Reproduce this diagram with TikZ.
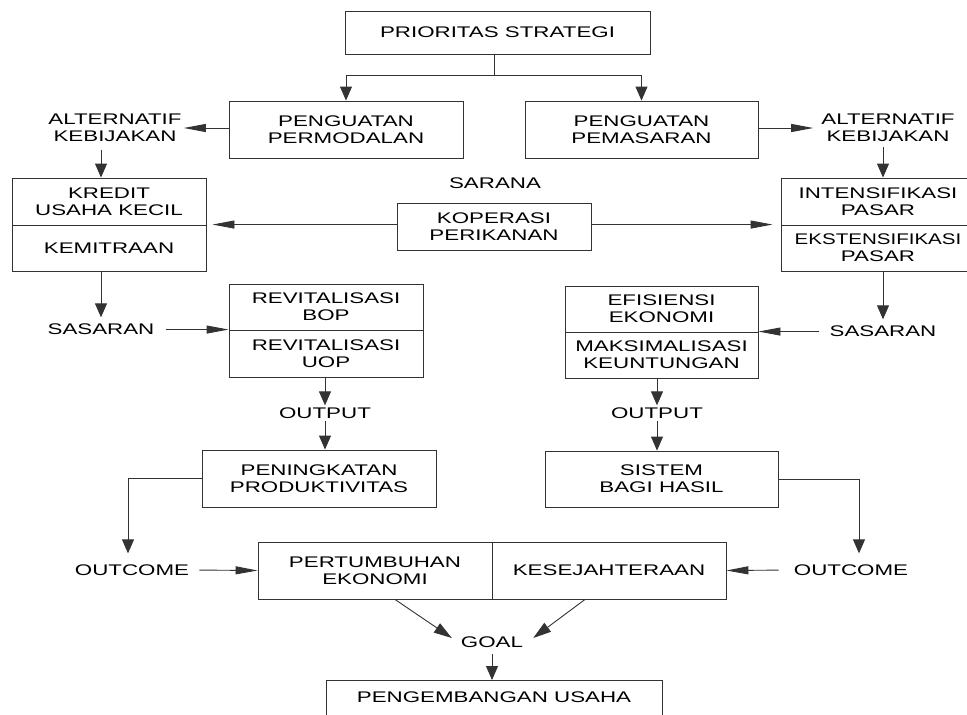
\documentclass[tikz,border=0pt]{standalone}
\usepackage{fontspec}
\setmainfont{Liberation Sans}[FakeStretch=1.45]
\usepackage{tikz}
\usetikzlibrary{arrows.meta}

\begin{document}
\begin{tikzpicture}[x=1pt,y=-1pt,
    box/.style={draw=black!80,line width=0.9pt,align=center,inner sep=0pt,font=\fontsize{15.4}{17}\selectfont},
    lbl/.style={align=center,inner sep=2pt,font=\fontsize{15.4}{17}\selectfont},
    link/.style={draw=black!80,line width=0.9pt},
    varr/.style={link,-{Triangle[length=14pt,width=12pt]}},
    harr/.style={link,-{Triangle[length=22pt,width=8pt]}},
    darr/.style={link,-{Triangle[length=18pt,width=11pt]}}]
        \useasboundingbox (0,0) rectangle (967,715);
        \clip (0,0) rectangle (967,715);
        % top level
        \node[box,minimum width=305,minimum height=43] (prio) at (497.5,32.5) {PRIORITAS STRATEGI};
        \node[box,minimum width=234,minimum height=57] (modal) at (346,129.5) {PENGUATAN\\PERMODALAN};
        \node[box,minimum width=233,minimum height=57] (pasar) at (641.5,129.5) {PENGUATAN\\PEMASARAN};
        \node[lbl] (altL) at (115,128) {ALTERNATIF\\KEBIJAKAN};
        \node[lbl] (altR) at (888,128) {ALTERNATIF\\KEBIJAKAN};
        % kebijakan and sarana
        \node[box,minimum width=194,minimum height=47] (kreditT) at (109,201.5) {KREDIT\\USAHA KECIL};
        \node[box,minimum width=194,minimum height=46] (kreditB) at (109,248) {KEMITRAAN};
        \node[box,minimum width=194,minimum height=47] (intensT) at (878,201.5) {INTENSIFIKASI\\PASAR};
        \node[box,minimum width=194,minimum height=46] (intensB) at (878,248) {\scalebox{0.92}[1]{EKSTENSIFIKASI}\\PASAR};
        \node[lbl] (sarana) at (495,183) {SARANA};
        \node[box,minimum width=194,minimum height=47] (kop) at (494,226.5) {KOPERASI\\PERIKANAN};
        % sasaran
        \node[lbl] (sasL) at (101,329) {SASARAN};
        \node[lbl] (sasR) at (883,331) {SASARAN};
        \node[box,minimum width=194,minimum height=46] (revitT) at (326,307) {REVITALISASI\\BOP};
        \node[box,minimum width=194,minimum height=47] (revitB) at (326,353.5) {REVITALISASI\\UOP};
        \node[box,minimum width=193,minimum height=46] (efisT) at (661.5,309) {EFISIENSI\\EKONOMI};
        \node[box,minimum width=193,minimum height=46] (efisB) at (661.5,355) {MAKSIMALISASI\\KEUNTUNGAN};
        % output
        \node[lbl] (outL) at (325,413) {OUTPUT};
        \node[lbl] (outR) at (657,413) {OUTPUT};
        \node[box,minimum width=234,minimum height=57] (prod) at (319,478.5) {PENINGKATAN\\PRODUKTIVITAS};
        \node[box,minimum width=233,minimum height=56] (bagi) at (661.5,479) {SISTEM\\BAGI HASIL};
        % outcome and goal
        \node[lbl] (outcL) at (132,570) {OUTCOME};
        \node[lbl] (outcR) at (851,570) {OUTCOME};
        \node[box,minimum width=234,minimum height=57] (tumbuh) at (375,570.5) {PERTUMBUHAN\\EKONOMI};
        \node[box,minimum width=234,minimum height=57] (sejahtera) at (609,570.5) {KESEJAHTERAAN};
        \node[lbl] (goal) at (492,642) {GOAL};
        \node[box,minimum width=336,anchor=north,inner ysep=0pt,text height=22.5pt,text depth=22pt] (kembang) at (494,680) {PENGEMBANGAN USAHA};

        \coordinate (split) at (494,75);
        \draw[link] (prio.south -| split) -- (split);
        \draw[varr] (split) -| (modal.north);
        \draw[varr] (split) -| (pasar.north);
        \draw[harr] (altL.east -| modal.west) -- (altL.east);
        \draw[harr,shorten >=6pt] (altR.west -| pasar.east) -- (altR.west);
        \draw[varr,shorten <=6pt] (altL.south -| sasL) -- (kreditT.north -| sasL);
        \draw[varr,shorten <=3pt] (altR.south -| sasR) -- (intensT.north -| sasR);
        \draw[harr,shorten >=6pt] (kop.west |- kreditB.north east) -- (kreditB.north east);
        \draw[harr,shorten >=8pt] (kop.east |- intensB.north west) -- (intensB.north west);
        \draw[varr,shorten >=4pt] (kreditB.south -| sasL) -- (sasL.north);
        \draw[varr,shorten >=4pt] (intensB.south -| sasR) -- (sasR.north);
        \draw[harr,shorten <=9pt] (sasL.east |- revitB.north west) -- (revitB.north west);
        \draw[harr,shorten <=8pt] (sasR.west |- efisB.north east) -- (efisB.north east);
        \draw[varr] (revitB.south -| outL) -- (outL.north);
        \draw[varr] (outL.south) -- (outL.south |- prod.north);
        \draw[varr] (efisB.south -| outR) -- (outR.north);
        \draw[varr] (outR.south) -- (outR.south |- bagi.north);
        \draw[varr,shorten >=9pt] (prod.west) -| ([xshift=-4pt]outcL.north);
        \draw[varr,shorten >=9pt] (bagi.east) -| ([xshift=8pt]outcR.north);
        \draw[harr,shorten <=8pt] (outcL.east) -- (tumbuh.west);
        \draw[harr,shorten <=13pt] (outcR.west) -- (sejahtera.east);
        \draw[darr] ([xshift=20pt]tumbuh.south) -- ([xshift=-7pt,yshift=4pt]goal.west);
        \draw[darr] ([xshift=-24pt]sejahtera.south) -- ([xshift=8pt,yshift=4pt]goal.east);
        \draw[varr,shorten <=4pt] (goal.south) -- (goal.south |- kembang.north);
      \end{tikzpicture}
\end{document}
